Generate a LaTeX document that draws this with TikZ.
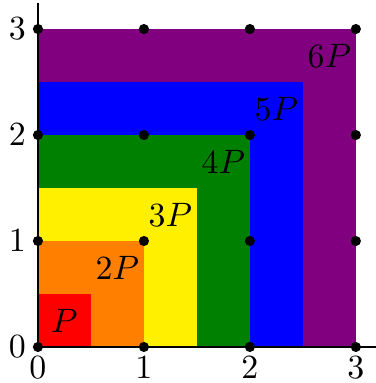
\documentclass[tikz,border=0pt]{standalone}
\definecolor{cpurple}{RGB}{128,0,128}
\definecolor{cblue}{RGB}{0,0,255}
\definecolor{cgreen}{RGB}{0,128,0}
\definecolor{cyellow}{RGB}{255,240,0}
\definecolor{corange}{RGB}{255,128,0}
\definecolor{cred}{RGB}{255,0,0}
\tikzset{
  dot/.style={circle,fill=black,inner sep=0pt,minimum size=3pt},
  axis/.style={line width=0.5pt,black},
  tick/.style={inner sep=1.5pt}
}
\begin{document}
\begin{tikzpicture}[x=1.1cm,y=1.1cm]
\useasboundingbox (-0.358,-0.34) rectangle (3.189,3.274);
\fill[cpurple] (0,0) rectangle (3,3);
\fill[cblue] (0,0) rectangle (2.5,2.5);
\fill[cgreen] (0,0) rectangle (2,2);
\fill[cyellow] (0,0) rectangle (1.5,1.5);
\fill[corange] (0,0) rectangle (1,1);
\fill[cred] (0,0) rectangle (0.5,0.5);
\coordinate (O) at (0,0);
\coordinate (xend) at (3.19,0);
\coordinate (yend) at (0,3.25);
\draw[axis] (O) -- (xend);
\draw[axis] (O) -- (yend);
\foreach \i in {0,1,2,3}{
  \foreach \j in {0,1,2,3}{
    \node[dot] (d\i\j) at (\i,\j) {};
  }
  \node[tick,anchor=north] (xl\i) at (\i,-0.04) {$\i$};
  \node[tick,anchor=east] (yl\i) at (-0.06,\i) {$\i$};
}
\node (l1) at (0.25,0.25) {$P$};
\node (l2) at (0.75,0.75) {$2P$};
\node (l3) at (1.25,1.25) {$3P$};
\node (l4) at (1.75,1.75) {$4P$};
\node (l5) at (2.25,2.25) {$5P$};
\node (l6) at (2.75,2.75) {$6P$};
\end{tikzpicture}
\end{document}
